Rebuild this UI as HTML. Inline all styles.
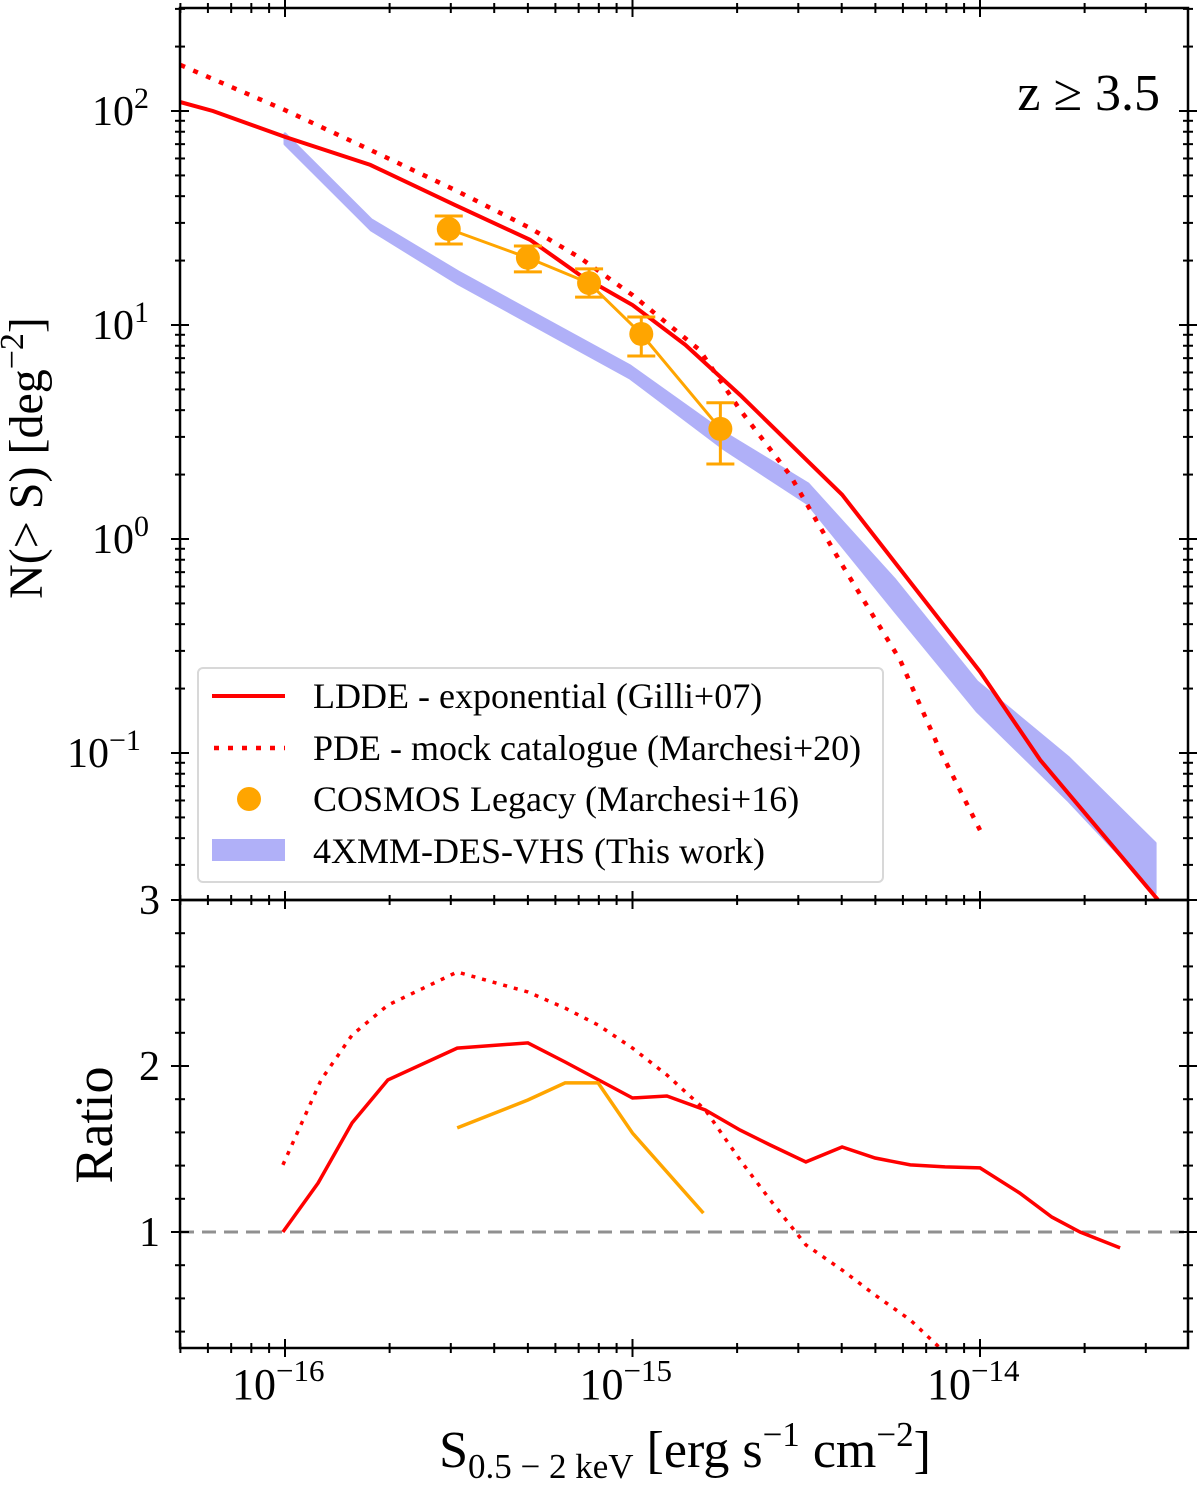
<!DOCTYPE html>
<html><head><meta charset="utf-8"><style>
body{margin:0;background:#fff;}
svg text{font-family:"Liberation Serif",serif;fill:#000;}
</style></head><body>
<svg id="chart" width="1200" height="1483" viewBox="0 0 1200 1483" xmlns="http://www.w3.org/2000/svg"></svg>
<script>
// ---- data ----
const lddeS=[5e-17,6.2e-17,1e-16,1.76e-16,3.08e-16,5.07e-16,7.06e-16,1e-15,1.42e-15,2.04e-15,4.01e-15,1e-14,1.49e-14,3.25e-14];
const lddeN=[110,100,75.7,56,36.4,25,17.1,12.4,8.07,4.71,1.61,0.24,0.0927,0.0206];
const pdeS=[5e-17,1e-16,1.76e-16,3.08e-16,5.07e-16,7.06e-16,1e-15,1.56e-15,2.04e-15,2.84e-15,4.01e-15,5.89e-15,7.67e-15,1e-14];
const pdeN=[164,101,65.8,42.8,28.4,20.6,13.8,7.64,4.01,1.99,0.757,0.272,0.103,0.0436];
const bandS=[1e-16,1.77e-16,3.15e-16,9.84e-16,1.82e-15,3.2e-15,5.66e-15,9.8e-15,1.79e-14,3.19e-14];
const bandHi=[78.2,31.0,17.7,6.43,3.16,1.81,0.65,0.215,0.0957,0.0379];
const bandLo=[70.2,27.8,15.6,5.65,2.66,1.46,0.466,0.157,0.0603,0.0222];
const cosS=[2.96e-16,5.0e-16,7.5e-16,1.06e-15,1.79e-15];
const cosN=[28.1,20.6,15.7,9.08,3.27];
const cosHi=[32.3,23.4,18.3,10.9,4.33];
const cosLo=[23.9,17.7,13.5,7.16,2.24];
const rLddeS=[9.86e-17,1.245e-16,1.56e-16,1.977e-16,3.13e-16,5.0e-16,6.4e-16,1e-15,1.256e-15,1.62e-15,2.04e-15,2.49e-15,3.155e-15,4.01e-15,4.99e-15,6.3e-15,7.93e-15,1e-14,1.30e-14,1.61e-14,1.94e-14,2.53e-14];
const rLdde=[1,1.295,1.657,1.916,2.108,2.139,2.024,1.807,1.819,1.735,1.614,1.524,1.422,1.512,1.446,1.404,1.392,1.386,1.235,1.09,1.0,0.904];
const rPdeS=[9.86e-17,1.27e-16,1.56e-16,1.977e-16,3.13e-16,5.0e-16,6.4e-16,7.96e-16,1e-15,1.256e-15,1.62e-15,2.04e-15,2.49e-15,3.155e-15,4.01e-15,4.99e-15,6.3e-15,7.67e-15];
const rPde=[1.404,1.916,2.187,2.367,2.566,2.446,2.349,2.247,2.108,1.946,1.735,1.434,1.193,0.922,0.771,0.62,0.47,0.301];
const rCosS=[3.13e-16,5.0e-16,6.4e-16,7.96e-16,1e-15,1.6e-15];
const rCos=[1.627,1.795,1.898,1.898,1.596,1.114];
const xTickExp=[-16,-15,-14];
const yTickExp=[2,1,0,-1];
const rTicks=[1,2,3];

// ---- axes ----
const L=180,R=1188,T1=8,B1=900,T2=900,B2=1348;
const xs=v=>285+(Math.log10(v)+16)*347.5;
const ys=v=>111-(Math.log10(v)-2)*214;
const yr=v=>1232-(v-1)*166;
const NS='http://www.w3.org/2000/svg';
const svg=document.getElementById('chart');
function mk(tag,attrs,parent){const e=document.createElementNS(NS,tag);for(const k in attrs)e.setAttribute(k,attrs[k]);(parent||svg).appendChild(e);return e;}
function pts(X,Y,fx,fy){return X.map((x,i)=>fx(x).toFixed(1)+','+fy(Y[i]).toFixed(1)).join(' ');}

const defs=mk('defs',{});
const c1=mk('clipPath',{id:'c1'},defs);mk('rect',{x:L,y:T1,width:R-L,height:B1-T1},c1);
const c2=mk('clipPath',{id:'c2'},defs);mk('rect',{x:L,y:T2,width:R-L,height:B2-T2},c2);

const g1=mk('g',{'clip-path':'url(#c1)'});


const bandPts=pts(bandS,bandHi,xs,ys)+' '+pts(bandS.slice().reverse(),bandLo.slice().reverse(),xs,ys);
const band=mk('polygon',{points:bandPts,fill:'#b0b0f8',stroke:'#b0b0f8','stroke-width':3,'stroke-linejoin':'round'},g1);


const ld=mk('polyline',{points:pts(lddeS,lddeN,xs,ys),fill:'none',stroke:'#ff0000','stroke-width':4},g1);


const pd=mk('polyline',{points:pts(pdeS,pdeN,xs,ys),fill:'none',stroke:'#ff0000','stroke-width':4.5,'stroke-dasharray':'5,9'},g1);


const cl=mk('polyline',{points:pts(cosS,cosN,xs,ys),fill:'none',stroke:'#ffa500','stroke-width':3},g1);


cosS.forEach((s,i)=>{
  const x=xs(s);
  const eb=mk('path',{d:`M${x},${ys(cosHi[i])}V${ys(cosLo[i])}M${x-14},${ys(cosHi[i])}h28M${x-14},${ys(cosLo[i])}h28`,stroke:'#ffa500','stroke-width':3,fill:'none'},g1);
  
  
  const p=mk('circle',{cx:x,cy:ys(cosN[i]),r:12,fill:'#ffa500'},g1);
  
  
});

const g2=mk('g',{'clip-path':'url(#c2)'});


const ref=mk('line',{x1:L,x2:R,y1:yr(1),y2:yr(1),stroke:'#909090','stroke-width':3,'stroke-dasharray':'14,8'},g2);


const r1=mk('polyline',{points:pts(rLddeS,rLdde,xs,yr),fill:'none',stroke:'#ff0000','stroke-width':3.5},g2);


const r2=mk('polyline',{points:pts(rPdeS,rPde,xs,yr),fill:'none',stroke:'#ff0000','stroke-width':3.5,'stroke-dasharray':'4,7'},g2);


const r3=mk('polyline',{points:pts(rCosS,rCos,xs,yr),fill:'none',stroke:'#ffa500','stroke-width':3.5},g2);



[[T1,B1],[T2,B2]].forEach(([t,b])=>{
  const f=mk('rect',{x:L,y:t,width:R-L,height:b-t,fill:'none',stroke:'#000','stroke-width':2.5});
  
  
});
const tk=mk('g',{stroke:'#000','stroke-width':2});


for(let e=-17;e<=-14;e++){for(let m=1;m<10;m++){const v=m*Math.pow(10,e);const x=xs(v);if(x<L||x>R)continue;const len=m==1?9:5;
  [T1,B1,B2].forEach(y=>mk('line',{x1:x,x2:x,y1:y-len,y2:y+len},tk));}}
for(let e=-2;e<=2;e++){for(let m=1;m<10;m++){const v=m*Math.pow(10,e);const y=ys(v);if(y<T1||y>B1)continue;const len=m==1?9:5;
  [L,R].forEach(x=>mk('line',{x1:x-len,x2:x+len,y1:y,y2:y},tk));}}
for(let v=0.4;v<=3.01;v+=0.2){const y=yr(v);const major=Math.abs(v-Math.round(v))<0.01;const len=major?9:5;
  [L,R].forEach(x=>mk('line',{x1:x-len,x2:x+len,y1:y,y2:y},tk));}

xTickExp.forEach(e=>{
  const t=mk('text',{x:xs(Math.pow(10,e))-53,y:1399,'font-size':44});
  
  
  t.innerHTML=`10<tspan dy="-18" font-size="31">−${-e}</tspan>`;
});
yTickExp.forEach(e=>{
  const t=mk('text',{x:e<0?67:92,y:ys(Math.pow(10,e))+14,'font-size':42});
  
  
  t.innerHTML=`10<tspan dy="-17" font-size="30">${e<0?'−'+(-e):e}</tspan>`;
});
rTicks.forEach(v=>{
  const t=mk('text',{x:160,y:yr(v)+14,'font-size':42,'text-anchor':'end'});
  
  
  t.textContent=v;
});
</script>
<svg style="position:absolute;left:0;top:0" width="1200" height="1483">
<text transform="translate(42,458) rotate(-90)" text-anchor="middle" font-size="48" style="font-family:'Liberation Serif',serif">N(&gt; S) [deg<tspan dy="-19" font-size="34">−2</tspan><tspan dy="19">]</tspan></text>
<text transform="translate(112,1125) rotate(-90)" text-anchor="middle" font-size="54" style="font-family:'Liberation Serif',serif">Ratio</text>
<text x="685" y="1467" text-anchor="middle" font-size="52" style="font-family:'Liberation Serif',serif">S<tspan dy="11" font-size="35">0.5 − 2 keV</tspan><tspan dy="-11"> [erg s</tspan><tspan dy="-21" font-size="35">−1</tspan><tspan dy="21"> cm</tspan><tspan dy="-21" font-size="35">−2</tspan><tspan dy="21">]</tspan></text>
<text x="1160" y="110" text-anchor="end" font-size="52" style="font-family:'Liberation Serif',serif">z ≥ 3.5</text>
<g style="font-family:'Liberation Serif',serif" font-size="36">
<rect x="198" y="668" width="685" height="214" rx="5" fill="#fff" fill-opacity="0.85" stroke="#d8d8d8" stroke-width="2"/>
<line x1="212" x2="285" y1="696" y2="696" stroke="#ff0000" stroke-width="4"/>
<text x="313" y="708">LDDE - exponential (Gilli+07)</text>
<line x1="214" x2="285" y1="748" y2="748" stroke="#ff0000" stroke-width="4.5" stroke-dasharray="5,9"/>
<text x="313" y="760">PDE - mock catalogue (Marchesi+20)</text>
<circle cx="249" cy="799" r="12" fill="#ffa500"/>
<text x="313" y="811">COSMOS Legacy (Marchesi+16)</text>
<rect x="212" y="839" width="73" height="22" fill="#b0b0f8"/>
<text x="313" y="863">4XMM-DES-VHS (This work)</text>
</g>
</svg>
</body></html>
